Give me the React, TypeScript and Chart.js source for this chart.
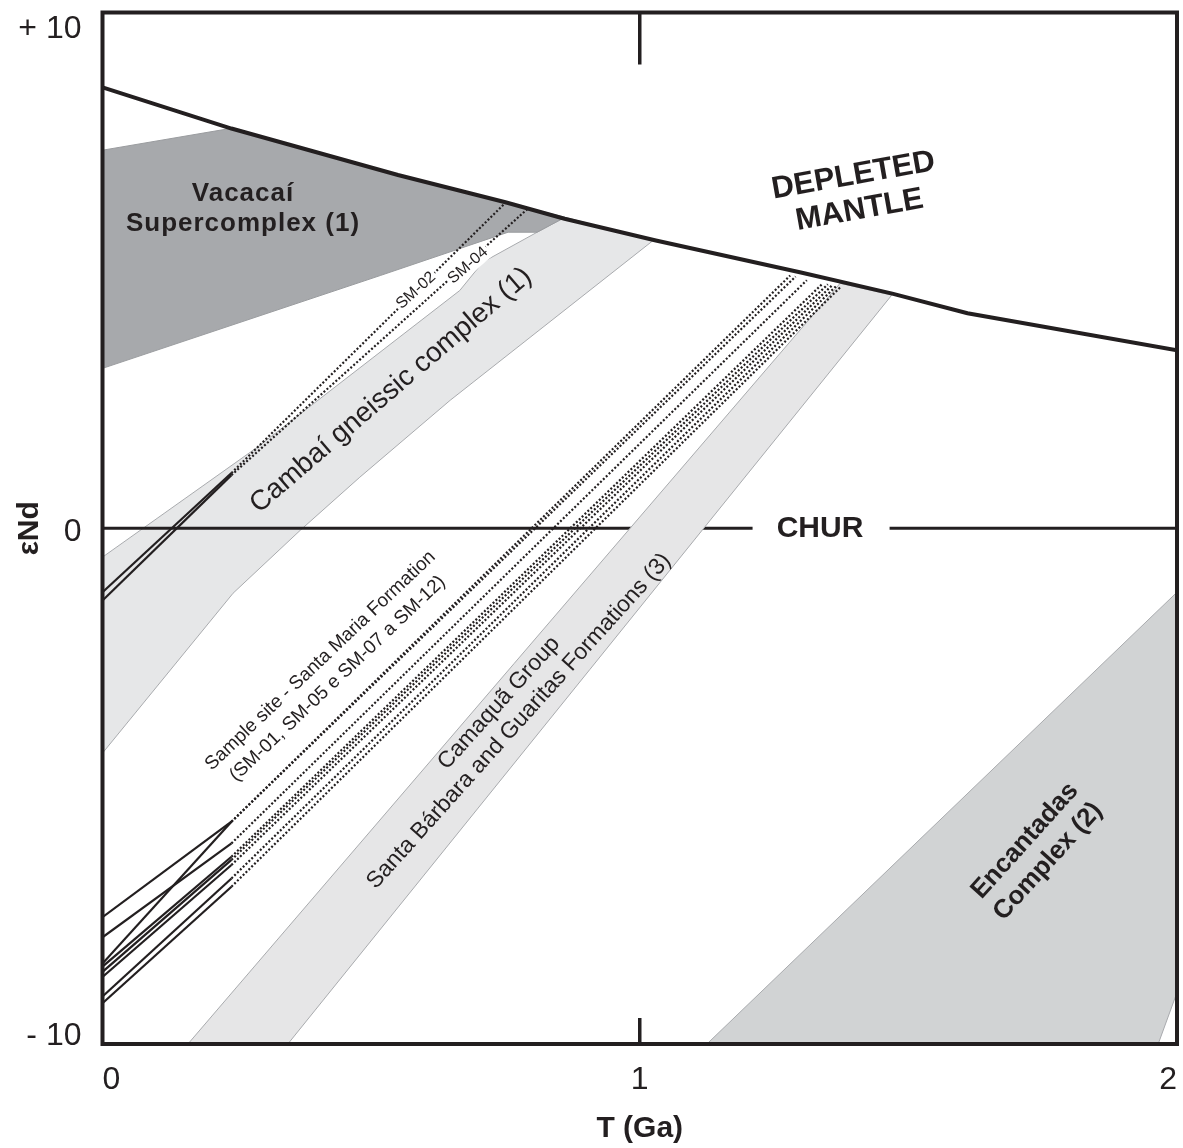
import React, { useEffect, useRef } from 'react';
import { Chart, registerables } from 'chart.js';

Chart.register(...registerables);

const INK = '#231f20';
const FONT = '"Liberation Sans", Arial, Helvetica, sans-serif';

// ---- axis ticks ----
const xTicks = [0, 1, 2];
const yTicks = [-10, 0, 10];
const yTickLabels = ['- 10', '0', '+ 10'];

// ---- Depleted mantle curve (T Ga, εNd) ----
const dmT = [0, 0.24, 0.55, 0.75, 0.86, 1.03, 1.3, 1.47, 1.61, 2.0];
const dmEps = [8.55, 7.75, 6.85, 6.32, 6.0, 5.58, 4.96, 4.55, 4.17, 3.45];

// ---- CHUR (gap where label sits) ----
const churT = [0, 1.21, 1.335, 1.465, 2];
const churEps: (number | null)[] = [0, 0, null, 0, 0];

// ---- Fields ----
const vacacaiT = [0, 0.237, 0.55, 0.75, 0.861, 0.809, 0.755, 0.517, 0, 0];
const vacacaiEps = [7.33, 7.75, 6.85, 6.32, 6.03, 5.74, 5.74, 4.9, 3.1, 7.33];

const cambaiT = [0, 0.288, 0.665, 0.708, 0.809, 0.861, 1.025, 0.647, 0.479, 0.368, 0.243, 0, 0];
const cambaiEps = [-0.56, 1.57, 4.61, 5.16, 5.74, 6.03, 5.58, 2.48, 0.99, -0.04, -1.26, -4.36, -0.56];

const camaquaT = [0.159, 1.373, 1.469, 0.345, 0.159];
const camaquaEps = [-10, 4.75, 4.52, -10, -10];

const encantadasT = [1.125, 2.0, 2.0, 1.965, 1.125];
const encantadasEps = [-10, -1.24, -9.0, -10, -10];

// ---- Sample evolution lines ----
const depT = 0.24;
// Santa Maria Formation (SM-01, SM-05, SM-07 a SM-12)
const smStartEps = [-7.54, -7.93, -8.44, -8.5, -8.6, -8.7, -9.08, -9.21];
const smDepEps = [-5.69, -6.11, -5.69, -6.37, -6.43, -6.53, -6.79, -6.95];
const smDmT = [1.28, 1.311, 1.29, 1.341, 1.35, 1.358, 1.365, 1.373];
const smDmEps = [4.9, 4.81, 4.88, 4.75, 4.73, 4.71, 4.69, 4.67];
// SM-02, SM-04
const cgStartEps = [-1.24, -1.4];
const cgDepEps = [1.07, 1.03];
const cgDmT = [0.749, 0.792];
const cgDmEps = [6.3, 6.2];

type Label = {
  lines: string[];
  t: number;
  e: number;
  angle: number;
  size: number;
  bold?: boolean;
  gap?: number;
  spacing?: number;
  bg?: boolean;
};

const labels: Label[] = [
  { lines: ['Vacacaí', 'Supercomplex (1)'], t: 0.2615, e: 6.2, angle: 0, size: 26, bold: true, gap: 30, spacing: 1 },
  { lines: ['DEPLETED', 'MANTLE'], t: 1.4034, e: 6.5, angle: -10, size: 31, bold: true, gap: 35 },
  { lines: ['Cambaí gneissic complex (1)'], t: 0.537, e: 2.674, angle: -40.6, size: 28 },
  { lines: ['Sample site - Santa Maria Formation', '(SM-01, SM-05 e SM-07 a SM-12)'], t: 0.4216, e: -2.742, angle: -43.5, size: 19, gap: 25 },
  { lines: ['Camaquã Group', 'Santa Bárbara and Guaritas Formations (3)'], t: 0.7566, e: -3.566, angle: -48, size: 23, gap: 27 },
  { lines: ['Encantadas', 'Complex (2)'], t: 1.7385, e: -6.26, angle: -48, size: 26, bold: true, gap: 31 },
  { lines: ['CHUR'], t: 1.3355, e: 0, angle: 0, size: 30, bold: true },
  { lines: ['SM-02'], t: 0.5835, e: 4.61, angle: -42, size: 16, bg: true },
  { lines: ['SM-04'], t: 0.6803, e: 5.097, angle: -41, size: 16, bg: true },
];

const pts = (xs: number[], ys: (number | null)[]) => xs.map((x, i) => ({ x, y: ys[i] }));

const overlayPlugin = {
  id: 'overlay',
  afterDatasetsDraw(chart: any) {
    const { ctx, chartArea: a, scales } = chart;
    const xs = scales.x;
    const ys = scales.y;
    ctx.save();
    // frame
    ctx.strokeStyle = INK;
    ctx.lineWidth = 4;
    ctx.lineCap = 'butt';
    ctx.strokeRect(a.left, a.top, a.right - a.left, a.bottom - a.top);
    // ticks at T = 1
    const p1 = xs.getPixelForValue(1);
    ctx.lineWidth = 3.5;
    ctx.beginPath();
    ctx.moveTo(p1, a.top);
    ctx.lineTo(p1, a.top + 52);
    ctx.moveTo(p1, a.bottom);
    ctx.lineTo(p1, a.bottom - 26);
    ctx.stroke();

    // y tick labels (inner aligned)
    ctx.fillStyle = INK;
    ctx.font = `32px ${FONT}`;
    ctx.textAlign = 'right';
    ctx.textBaseline = 'alphabetic';
    const capH = 23;
    ys.ticks.forEach((tk: any) => {
      const idx = yTicks.indexOf(tk.value);
      if (idx < 0) return;
      const p = ys.getPixelForValue(tk.value);
      let base = p + capH / 2 + 1.5;
      base = Math.max(base, a.top + capH + 2.5);
      base = Math.min(base, a.bottom + 1);
      ctx.fillText(yTickLabels[idx], a.left - 21, base);
    });

    // region labels
    for (const lab of labels) {
      const cx = xs.getPixelForValue(lab.t);
      const cy = ys.getPixelForValue(lab.e);
      ctx.save();
      ctx.translate(cx, cy);
      ctx.rotate((lab.angle * Math.PI) / 180);
      ctx.font = `${lab.bold ? 'bold ' : ''}${lab.size}px ${FONT}`;
      (ctx as any).letterSpacing = `${lab.spacing || 0}px`;
      ctx.textAlign = 'center';
      ctx.textBaseline = 'middle';
      const gap = lab.gap || lab.size * 1.2;
      const n = lab.lines.length;
      lab.lines.forEach((line, i) => {
        const oy = (i - (n - 1) / 2) * gap;
        if (lab.bg) {
          const w = ctx.measureText(line).width;
          ctx.fillStyle = '#ffffff';
          ctx.fillRect(-w / 2 - 2, oy - lab.size * 0.55, w + 4, lab.size * 1.1);
        }
        ctx.fillStyle = INK;
        ctx.fillText(line, 0, oy);
      });
      ctx.restore();
    }
    ctx.restore();
  },
};

export default function App() {
  const ref = useRef<HTMLCanvasElement | null>(null);

  useEffect(() => {
    if (!ref.current) return;

    const polygon = (xs: number[], ysv: number[], fillC: string, edge: string, order: number) => ({
      data: pts(xs, ysv),
      showLine: true,
      fill: 'shape',
      backgroundColor: fillC,
      borderColor: edge,
      borderWidth: 1,
      pointRadius: 0,
      tension: 0,
      order,
    });

    const sampleLine = (s: number, d: number, tdm: number, edm: number) => ({
      data: [
        { x: 0, y: s },
        { x: depT, y: d },
        { x: tdm, y: edm },
      ],
      showLine: true,
      fill: false,
      borderColor: INK,
      borderWidth: 2.2,
      pointRadius: 0,
      tension: 0,
      order: 5,
      segment: {
        borderDash: (c: any) => (c.p0DataIndex >= 1 ? [2, 2] : undefined),
      },
    });

    const datasets: any[] = [
      polygon(encantadasT, encantadasEps, '#d1d3d4', '#a9abae', 20),
      polygon(vacacaiT, vacacaiEps, '#a7a9ac', '#9a9c9f', 20),
      polygon(cambaiT, cambaiEps, '#e6e7e8', '#a9abae', 21),
      {
        data: pts(churT, churEps),
        showLine: true,
        spanGaps: false,
        fill: false,
        borderColor: INK,
        borderWidth: 3.2,
        pointRadius: 0,
        order: 15,
      },
      polygon(camaquaT, camaquaEps, '#e6e6e7', '#a9abae', 12),
      ...smStartEps.map((s, i) => sampleLine(s, smDepEps[i], smDmT[i], smDmEps[i])),
      ...cgStartEps.map((s, i) => sampleLine(s, cgDepEps[i], cgDmT[i], cgDmEps[i])),
      {
        data: pts(dmT, dmEps),
        showLine: true,
        fill: false,
        borderColor: INK,
        borderWidth: 4,
        pointRadius: 0,
        tension: 0,
        order: 1,
      },
    ];

    const chart = new Chart(ref.current, {
      type: 'scatter',
      data: { datasets },
      plugins: [overlayPlugin],
      options: {
        animation: false,
        responsive: true,
        maintainAspectRatio: false,
        events: [],
        layout: { padding: { left: 0, right: 6, top: 12.5, bottom: 0 } },
        plugins: {
          legend: { display: false },
          tooltip: { enabled: false },
        },
        scales: {
          x: {
            type: 'linear',
            min: 0,
            max: 2,
            afterBuildTicks: (s: any) => {
              s.ticks = xTicks.map((v) => ({ value: v }));
            },
            afterFit: (s: any) => {
              s.height = 104;
              s.paddingLeft = 0;
              s.paddingRight = 0;
            },
            grid: { display: false, drawTicks: false },
            border: { display: false },
            ticks: {
              align: 'inner',
              maxRotation: 0,
              autoSkip: false,
              padding: 17,
              color: INK,
              font: { family: FONT, size: 32 },
              callback: (v: any) => String(v),
            },
            title: {
              display: true,
              text: 'T (Ga)',
              color: INK,
              font: { family: FONT, size: 30, weight: 'bold' },
              padding: { top: 0, bottom: 1 },
            },
          },
          y: {
            type: 'linear',
            min: -10,
            max: 10,
            afterBuildTicks: (s: any) => {
              s.ticks = yTicks.map((v) => ({ value: v }));
            },
            afterFit: (s: any) => {
              s.width = 102.5;
              s.paddingTop = 0;
              s.paddingBottom = 0;
            },
            grid: { display: false, drawTicks: false },
            border: { display: false },
            ticks: { display: false },
            title: {
              display: true,
              text: 'εNd',
              color: INK,
              font: { family: FONT, size: 30, weight: 'bold' },
              padding: { top: 12, bottom: 0 },
            },
          },
        },
      } as any,
    });

    return () => chart.destroy();
  }, []);

  return (
    <div
      style={{
        position: 'fixed',
        left: 0,
        top: 0,
        width: '1183px',
        height: '1148px',
        background: '#ffffff',
      }}
    >
      <canvas ref={ref} />
    </div>
  );
}
